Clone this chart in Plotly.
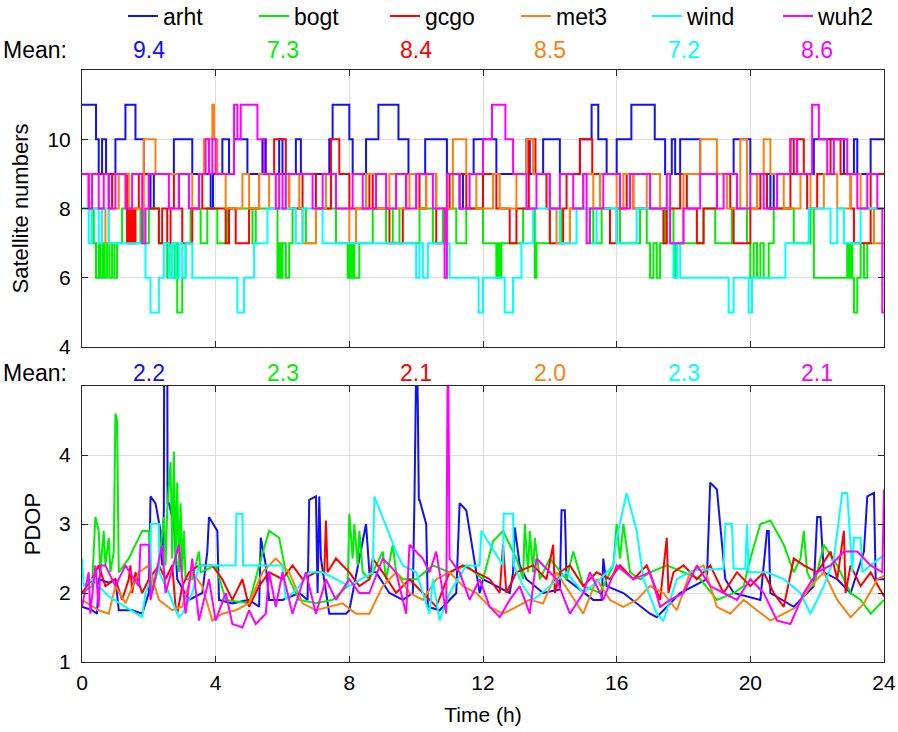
import plotly.graph_objects as go

# ---------------- data ----------------
stations = ["arht", "bogt", "gcgo", "met3", "wind", "wuh2"]
colors = ["#1010ff", "#00ee00", "#ff0000", "#ff7f0e", "#00ffff", "#ff00ff"]
mean_sat = ["9.4", "7.3", "8.4", "8.5", "7.2", "8.6"]
mean_pdop = ["2.2", "2.3", "2.1", "2.0", "2.3", "2.1"]
x_ticks = [0, 4, 8, 12, 16, 20, 24]

# satellite numbers (change times in hours, value held until next change)
arht_t = [0, 0.42, 0.5, 0.6, 0.72, 1.0, 1.3, 1.6, 1.85, 2.05,
          2.15, 2.75, 3.3, 3.85, 3.92, 4.2, 4.4, 4.55, 4.95, 5.4,
          5.5, 5.9, 6.0, 6.4, 6.55, 7.4, 7.5, 8.0, 8.1, 8.5,
          8.87, 9.47, 9.77, 10.27, 10.92, 11.3, 11.4, 11.72, 12.4, 13.3,
          13.4, 13.8, 14.3, 14.9, 15.25, 15.45, 15.7, 16.0, 16.44, 17.14,
          17.45, 17.65, 17.75, 17.9, 18.5, 19.5, 20.0, 20.6, 20.7, 21.9,
          22.8, 23.1, 23.2, 23.6, 24]
arht_n = [11, 10, 9, 10, 9, 10, 11, 10, 9, 8,
          9, 10, 9, 8, 9, 10, 9, 10, 9, 10,
          9, 10, 9, 10, 9, 10, 11, 10, 9, 10,
          11, 10, 9, 10, 9, 8, 9, 10, 9, 10,
          9, 10, 9, 10, 11, 10, 9, 10, 11, 10,
          9, 10, 9, 10, 9, 10, 9, 8, 9, 10,
          9, 10, 9, 10, 10]

bogt_t = [0, 0.35, 0.42, 0.5, 0.55, 0.62, 0.68, 0.75, 0.82, 0.9,
          0.97, 1.05, 1.2, 1.35, 1.75, 1.85, 2.0, 2.3, 2.55, 2.62,
          2.7, 2.78, 2.85, 3.0, 3.1, 3.25, 3.55, 3.75, 4.05, 4.35,
          5.1, 5.2, 5.85, 5.9, 5.95, 6.0, 6.1, 6.2, 6.3, 6.7,
          7.0, 7.6, 7.95, 8.0, 8.05, 8.1, 8.15, 8.3, 8.7, 9.1,
          9.3, 9.5, 10.1, 10.5, 10.8, 11.2, 11.5, 12.0, 12.4, 12.45,
          12.5, 12.55, 12.6, 13.2, 13.55, 13.6, 14.0, 14.35, 14.6, 15.3,
          15.55, 16.1, 16.7, 16.9, 17.0, 17.1, 17.2, 17.3, 17.45, 17.7,
          17.75, 17.8, 17.85, 18.6, 18.95, 19.45, 19.9, 20.0, 20.1, 20.2,
          20.3, 20.4, 20.55, 20.7, 21.3, 21.8, 21.9, 22.9, 22.95, 23.0,
          23.05, 23.1, 23.2, 23.3, 23.4, 23.5, 23.7, 24]
bogt_n = [8, 7, 6, 7, 6, 7, 6, 7, 6, 7,
          6, 7, 8, 7, 8, 7, 8, 7, 6, 7,
          6, 7, 5, 6, 7, 8, 7, 8, 7, 8,
          7, 8, 6, 7, 6, 7, 6, 7, 8, 7,
          8, 7, 6, 7, 6, 7, 6, 7, 8, 7,
          8, 7, 8, 7, 8, 7, 8, 7, 6, 7,
          6, 7, 7, 8, 6, 7, 8, 7, 8, 7,
          8, 7, 8, 7, 6, 7, 6, 7, 8, 7,
          6, 7, 7, 8, 7, 8, 7, 6, 7, 6,
          7, 6, 7, 8, 7, 8, 6, 7, 6, 7,
          6, 5, 6, 7, 6, 7, 8, 8]

gcgo_t = [0, 0.2, 0.3, 0.8, 0.9, 1.35, 1.4, 1.45, 1.5, 1.55,
          1.6, 1.7, 2.0, 2.3, 2.4, 2.55, 2.65, 2.75, 2.9, 3.0,
          3.3, 3.5, 3.6, 4.3, 4.4, 4.6, 5.0, 5.3, 5.75, 6.1,
          6.2, 6.6, 7.0, 7.45, 7.7, 8.0, 8.6, 8.7, 9.2, 9.6,
          9.7, 10.1, 10.3, 10.6, 10.9, 11.0, 11.5, 12.0, 12.4, 12.8,
          13.0, 13.37, 13.57, 13.9, 14.0, 14.4, 14.5, 14.9, 15.27, 15.5,
          15.8, 16.0, 16.3, 16.5, 17.4, 17.5, 17.9, 18.1, 18.4, 18.6,
          19.0, 19.4, 19.5, 20.0, 20.3, 20.5, 21.2, 21.3, 21.4, 21.6,
          21.7, 22.0, 22.4, 22.7, 23.0, 23.1, 23.6, 24]
gcgo_n = [9, 8, 9, 8, 9, 7, 8, 7, 8, 7,
          8, 9, 8, 7, 8, 7, 8, 9, 8, 7,
          8, 9, 8, 7, 8, 7, 8, 9, 10, 9,
          8, 9, 8, 10, 9, 8, 9, 8, 7, 8,
          9, 8, 9, 7, 8, 9, 8, 9, 8, 7,
          8, 10, 9, 8, 7, 8, 9, 10, 9, 8,
          7, 8, 9, 8, 7, 8, 9, 8, 7, 8,
          9, 8, 7, 8, 9, 8, 10, 9, 10, 9,
          8, 9, 10, 9, 8, 7, 9, 9]

met3_t = [0, 0.3, 0.7, 0.8, 1.1, 1.4, 1.85, 2.2, 3.3, 3.5,
          3.65, 3.9, 3.95, 4.05, 4.3, 4.8, 5.0, 5.3, 5.6, 6.2,
          6.5, 6.6, 7.0, 7.3, 7.6, 8.0, 8.2, 8.5, 8.8, 9.2,
          9.4, 9.8, 10.0, 10.3, 10.6, 11.1, 11.5, 11.8, 12.3, 12.5,
          13.0, 13.3, 13.5, 14.0, 14.2, 14.6, 15.0, 15.3, 15.5, 16.0,
          16.2, 16.5, 16.9, 17.3, 17.6, 18.0, 18.5, 19.0, 19.3, 19.7,
          19.9, 20.2, 20.4, 20.6, 21.0, 21.5, 21.8, 22.2, 22.6, 23.0,
          23.3, 23.7, 24]
met3_n = [9, 8, 7, 8, 9, 8, 10, 9, 8, 9,
          10, 11, 10, 9, 8, 9, 8, 9, 8, 9,
          8, 7, 8, 9, 8, 7, 8, 9, 8, 9,
          8, 9, 8, 9, 8, 10, 9, 8, 9, 8,
          9, 10, 9, 8, 7, 8, 9, 8, 9, 8,
          9, 8, 9, 8, 7, 9, 10, 9, 8, 10,
          8, 9, 10, 9, 8, 9, 8, 9, 8, 9,
          8, 7, 7]

wind_t = [0, 0.2, 0.3, 0.5, 0.6, 0.8, 1.0, 1.9, 2.05, 2.3,
          2.45, 2.6, 2.7, 2.8, 2.9, 3.0, 3.1, 3.3, 4.65, 4.85,
          5.15, 5.55, 6.4, 6.6, 7.2, 8.0, 10.0, 10.1, 10.2, 10.35,
          11.0, 11.87, 12.0, 12.65, 12.9, 13.15, 13.5, 14.3, 14.8, 15.2,
          15.4, 16.0, 16.6, 17.6, 17.7, 17.8, 17.9, 18.1, 19.35, 19.5,
          19.95, 20.05, 21.05, 21.75, 22.4, 22.6, 22.8, 23.3, 24]
wind_n = [8, 7, 8, 7, 8, 7, 7, 6, 5, 6,
          7, 6, 7, 6, 7, 6, 7, 6, 5, 6,
          7, 8, 7, 8, 7, 7, 6, 7, 6, 7,
          6, 5, 6, 5, 6, 7, 8, 7, 8, 7,
          8, 7, 8, 7, 6, 7, 6, 6, 5, 6,
          5, 6, 7, 8, 7, 8, 7, 8, 8]

wuh2_t = [0, 0.2, 0.3, 0.5, 0.65, 0.8, 1.0, 1.3, 1.5, 1.8,
          1.9, 2.0, 2.6, 2.9, 3.2, 3.5, 3.7, 3.8, 3.9, 4.0,
          4.3, 4.55, 4.65, 4.75, 5.25, 5.45, 5.8, 5.9, 6.0, 6.1,
          6.4, 6.9, 7.2, 7.6, 8.1, 8.4, 8.8, 9.1, 9.4, 9.7,
          10.0, 10.5, 10.85, 10.92, 11.3, 11.6, 12.0, 12.27, 12.67, 12.9,
          13.3, 13.6, 14.0, 14.3, 14.7, 15.0, 15.1, 15.2, 15.6, 16.1,
          16.4, 17.0, 17.5, 17.6, 18.0, 18.5, 19.0, 19.2, 19.6, 20.0,
          20.4, 20.8, 21.2, 21.4, 21.85, 22.05, 22.3, 22.5, 22.9, 23.2,
          23.5, 23.8, 23.95, 24]
wuh2_n = [9, 8, 9, 8, 9, 8, 9, 8, 9, 7,
          8, 9, 8, 9, 8, 9, 10, 9, 10, 9,
          9, 11, 10, 11, 10, 9, 8, 9, 8, 9,
          9, 8, 9, 8, 9, 8, 9, 8, 9, 8,
          9, 8, 6, 9, 8, 9, 10, 11, 10, 9,
          8, 9, 8, 9, 8, 9, 7, 8, 9, 8,
          9, 8, 9, 7, 8, 9, 8, 9, 8, 9,
          8, 9, 10, 9, 11, 10, 9, 10, 9, 8,
          9, 8, 5, 5]

# PDOP
arht_pt = [0, 0.3, 0.45, 0.5, 0.8, 1.0, 1.1, 1.5, 1.8, 2.0,
           2.05, 2.2, 2.35, 2.4, 2.45, 2.46, 2.55, 2.56, 2.6, 2.75,
           2.85, 3.2, 3.6, 3.75, 3.8, 4.05, 4.1, 4.5, 5.0, 5.3,
           5.35, 5.5, 5.6, 6.0, 6.5, 6.75, 6.8, 7.0, 7.05, 7.1,
           7.15, 7.4, 7.9, 8.0, 8.5, 8.6, 8.8, 9.2, 9.6, 9.9,
           9.95, 10.0, 10.02, 10.08, 10.1, 10.3, 10.35, 10.7, 11.2, 11.3,
           11.5, 11.9, 12.0, 12.8, 12.9, 12.95, 13.1, 13.3, 13.8, 14.3,
           14.35, 14.45, 14.5, 15.3, 15.55, 15.6, 15.7, 16.2, 17.0, 17.2,
           17.9, 18.7, 18.8, 19.0, 19.2, 19.25, 19.5, 20.3, 20.5, 20.55,
           20.6, 21.3, 21.9, 22.0, 22.1, 22.2, 22.6, 23.0, 23.4, 23.5,
           23.7, 23.75, 24]
arht_p = [1.8, 1.75, 1.7, 2.2, 2.15, 2.2, 1.75, 1.75, 1.7, 2.0,
          3.4, 3.3, 2.9, 2.4, 3.2, 6.0, 6.0, 3.3, 3.3, 3.0,
          2.2, 1.9, 2.0, 2.6, 3.1, 2.9, 1.9, 1.85, 1.9, 1.8,
          2.8, 2.4, 1.9, 1.9, 2.0, 1.9, 3.35, 3.4, 2.0, 3.4,
          2.5, 1.7, 1.7, 1.75, 3.0, 2.3, 2.3, 2.0, 1.9, 2.0,
          3.4, 6.0, 6.0, 3.35, 3.35, 3.0, 1.8, 1.75, 2.0, 3.3,
          3.2, 2.0, 2.2, 2.0, 2.3, 2.95, 2.4, 2.2, 2.0, 2.05,
          3.2, 3.2, 2.2, 1.9, 1.9, 2.5, 2.1, 2.0, 1.7, 1.65,
          2.0, 2.2, 3.6, 3.5, 2.5, 2.2, 2.0, 1.9, 2.9, 2.9,
          2.0, 1.8, 2.1, 3.1, 3.1, 2.3, 2.2, 2.0, 2.6, 3.4,
          3.45, 2.2, 2.2]

bogt_pt = [0, 0.3, 0.4, 0.5, 0.55, 0.65, 0.7, 0.8, 0.85, 0.95,
           1.0, 1.05, 1.1, 1.4, 1.8, 2.0, 2.1, 2.3, 2.45, 2.5,
           2.55, 2.65, 2.7, 2.75, 2.8, 2.85, 2.9, 2.95, 3.0, 3.05,
           3.1, 3.3, 3.5, 3.55, 4.0, 4.3, 5.0, 5.3, 5.6, 5.9,
           6.1, 6.5, 7.0, 7.5, 7.95, 8.0, 8.1, 8.15, 8.25, 8.3,
           8.4, 8.6, 9.0, 9.1, 9.3, 9.4, 9.6, 10.0, 10.5, 11.0,
           11.5, 12.0, 12.3, 12.6, 13.0, 13.2, 13.25, 13.35, 13.4, 13.5,
           13.55, 13.7, 14.0, 14.5, 14.7, 15.0, 15.5, 15.9, 16.0, 16.1,
           16.2, 16.4, 16.7, 17.0, 17.5, 18.0, 18.5, 19.0, 19.5, 19.8,
           20.0, 20.3, 20.6, 21.0, 21.3, 21.5, 21.6, 21.7, 21.9, 22.2,
           22.6, 23.0, 23.3, 23.6, 24]
bogt_p = [2.0, 2.1, 3.1, 2.9, 2.3, 2.9, 2.4, 2.8, 2.3, 2.6,
          4.6, 4.5, 2.3, 2.5, 2.9, 2.9, 2.0, 2.4, 3.1, 2.4,
          3.2, 3.9, 2.5, 4.05, 2.4, 3.6, 2.3, 3.3, 2.3, 2.9,
          2.2, 2.2, 2.6, 2.3, 2.4, 1.9, 1.85, 2.4, 2.9, 2.8,
          2.3, 1.9, 1.85, 1.9, 2.1, 3.15, 2.5, 3.0, 2.4, 2.9,
          2.3, 2.2, 2.6, 2.2, 2.7, 2.3, 2.2, 2.2, 2.4, 2.3,
          2.4, 2.2, 2.75, 2.9, 2.5, 2.2, 3.0, 2.3, 2.9, 2.3,
          2.8, 2.2, 2.5, 2.2, 2.6, 2.1, 2.0, 2.4, 3.0, 2.5,
          3.0, 2.3, 2.2, 2.3, 2.4, 2.3, 2.2, 1.9, 2.0, 2.1,
          2.5, 3.0, 3.05, 2.7, 2.3, 2.5, 2.9, 2.3, 2.1, 2.7,
          2.4, 2.0, 1.9, 1.7, 1.9]

gcgo_pt = [0, 0.3, 0.5, 0.7, 1.0, 1.2, 1.4, 1.45, 1.5, 1.6,
           1.8, 2.0, 2.3, 2.5, 2.7, 2.8, 2.85, 3.0, 3.2, 3.5,
           3.9, 4.2, 4.5, 4.8, 5.0, 5.3, 5.6, 6.0, 6.3, 6.6,
           7.0, 7.25, 7.3, 7.35, 7.6, 8.0, 8.3, 8.6, 8.7, 9.0,
           9.4, 9.8, 10.2, 10.6, 11.0, 11.4, 11.8, 12.2, 12.5, 12.6,
           12.7, 13.0, 13.5, 13.9, 14.1, 14.15, 14.3, 14.6, 15.0, 15.4,
           15.8, 16.1, 16.5, 16.9, 17.3, 17.5, 17.55, 17.7, 18.0, 18.4,
           18.8, 19.2, 19.6, 20.0, 20.4, 20.7, 21.0, 21.3, 21.6, 22.0,
           22.4, 22.6, 22.8, 22.85, 23.0, 23.3, 23.6, 24]
gcgo_p = [2.0, 2.2, 2.4, 2.1, 2.2, 1.9, 2.2, 2.4, 2.0, 2.3,
          2.0, 2.2, 2.4, 2.2, 2.4, 1.8, 1.7, 2.1, 2.3, 2.4,
          2.4, 2.2, 1.9, 2.2, 1.8, 2.1, 2.3, 2.2, 2.4, 2.2,
          2.3, 2.3, 3.05, 2.3, 2.5, 2.3, 2.1, 2.2, 2.5, 2.3,
          2.0, 2.2, 2.0, 1.8, 2.3, 2.4, 2.3, 2.2, 2.0, 2.7,
          2.0, 2.3, 2.4, 2.2, 2.7, 2.0, 2.3, 2.4, 2.1, 2.3,
          2.2, 2.4, 2.2, 2.4, 1.9, 2.8, 2.0, 2.3, 2.4, 2.2,
          2.4, 2.0, 2.3, 2.1, 2.3, 2.0, 1.8, 2.5, 2.4, 2.3,
          2.6, 2.2, 2.9, 2.0, 2.4, 2.1, 2.3, 1.95]

met3_pt = [0, 0.5, 0.8, 1.0, 1.3, 1.7, 2.0, 2.3, 2.7, 3.0,
           3.3, 3.6, 3.9, 4.2, 4.6, 5.0, 5.4, 5.8, 6.2, 6.6,
           7.0, 7.4, 7.8, 8.2, 8.6, 9.0, 9.4, 9.8, 10.2, 10.6,
           11.0, 11.4, 11.8, 12.2, 12.6, 13.0, 13.4, 13.8, 14.2, 14.6,
           15.0, 15.4, 15.8, 16.2, 16.6, 17.0, 17.4, 17.8, 18.2, 18.6,
           19.0, 19.4, 19.8, 20.2, 20.6, 21.0, 21.4, 21.8, 22.2, 22.6,
           23.0, 23.4, 23.8, 24]
met3_p = [1.9, 1.75, 1.7, 2.1, 1.85, 2.3, 2.4, 1.9, 1.75, 1.8,
          2.3, 2.1, 1.6, 1.7, 1.75, 1.85, 2.3, 2.5, 2.3, 1.85,
          1.75, 1.8, 1.85, 1.7, 1.7, 2.1, 2.3, 2.0, 1.9, 2.2,
          2.3, 2.1, 2.0, 1.8, 1.7, 1.8, 1.9, 1.85, 2.3, 2.0,
          1.7, 2.2, 1.9, 1.8, 1.9, 2.1, 2.0, 1.75, 2.3, 2.4,
          1.8, 1.7, 1.9, 1.75, 1.6, 1.7, 1.8, 2.1, 2.3, 1.9,
          1.65, 1.85, 2.2, 2.25]

wind_pt = [0, 0.05, 0.3, 0.8, 1.3, 1.8, 1.9, 2.05, 2.06, 2.3,
           2.31, 2.6, 2.9, 3.0, 3.3, 3.5, 4.5, 4.6, 4.62, 4.8,
           4.82, 5.2, 6.0, 6.1, 6.5, 6.8, 7.2, 8.0, 8.7, 8.75,
           9.4, 9.6, 10.0, 10.4, 10.5, 10.7, 11.0, 11.5, 11.9, 11.95,
           12.6, 12.62, 12.9, 12.92, 13.2, 13.5, 14.0, 14.5, 15.0, 15.5,
           15.9, 16.0, 16.3, 16.6, 16.8, 17.2, 17.4, 17.8, 18.3, 19.2,
           19.25, 19.45, 19.5, 19.85, 19.9, 19.95, 20.5, 21.0, 21.5, 21.8,
           22.2, 22.5, 22.75, 22.9, 23.05, 23.1, 23.3, 23.35, 23.6, 24]
wind_p = [2.5, 2.1, 2.2, 1.95, 1.8, 1.65, 2.0, 2.2, 3.0, 3.0,
          2.3, 2.0, 1.65, 1.7, 2.0, 2.4, 2.4, 2.4, 3.15, 3.15,
          2.4, 2.4, 2.4, 1.9, 2.1, 2.3, 2.3, 2.1, 2.3, 3.4,
          2.6, 2.4, 2.3, 1.7, 2.2, 1.6, 2.0, 2.4, 2.4, 2.9,
          2.4, 3.15, 3.15, 2.4, 2.1, 1.9, 2.1, 2.3, 2.0, 2.2,
          2.4, 2.8, 3.45, 2.9, 2.2, 1.7, 1.6, 2.2, 2.33, 2.35,
          3.0, 3.0, 2.35, 2.35, 3.0, 2.3, 2.3, 2.2, 2.0, 1.7,
          2.1, 2.5, 3.45, 3.45, 2.3, 2.8, 2.8, 2.3, 2.4, 2.55]

wuh2_pt = [0, 0.2, 0.25, 0.4, 0.5, 0.55, 0.7, 1.0, 1.3, 1.7,
           1.75, 2.0, 2.05, 2.4, 2.5, 2.9, 3.1, 3.3, 3.5, 3.8,
           4.0, 4.3, 4.5, 4.8, 5.0, 5.2, 5.5, 5.6, 5.8, 6.0,
           6.3, 6.7, 7.0, 7.3, 7.6, 8.0, 8.3, 8.6, 9.0, 9.4,
           9.7, 9.8, 10.2, 10.4, 10.6, 10.9, 10.95, 11.0, 11.3, 11.6,
           11.9, 12.2, 12.5, 12.8, 13.1, 13.4, 13.6, 13.8, 14.2, 14.6,
           15.0, 15.2, 15.6, 16.0, 16.5, 17.0, 17.3, 17.6, 18.0, 18.4,
           18.8, 19.2, 19.6, 20.0, 20.4, 20.8, 21.2, 21.6, 22.0, 22.4,
           22.8, 23.2, 23.6, 23.95, 24]
wuh2_p = [1.8, 2.3, 1.7, 2.4, 1.8, 2.4, 2.4, 2.1, 2.4, 2.1,
          2.7, 2.7, 1.9, 2.7, 2.0, 2.7, 1.7, 2.5, 1.6, 2.2,
          1.6, 2.0, 1.55, 1.5, 1.75, 1.55, 1.7, 2.3, 1.8, 2.3,
          1.7, 2.3, 1.7, 2.2, 1.9, 2.2, 2.0, 2.0, 2.5, 2.3,
          1.7, 2.7, 2.5, 2.3, 2.6, 1.7, 6.0, 2.5, 2.3, 1.9,
          2.2, 1.8, 1.65, 1.9, 2.1, 1.7, 2.5, 2.4, 2.2, 1.7,
          2.0, 2.3, 1.9, 2.4, 2.2, 2.3, 1.8, 1.9, 2.0, 2.4,
          2.1, 2.0, 1.9, 2.2, 2.0, 1.6, 1.55, 2.0, 2.3, 2.4,
          2.6, 2.6, 2.4, 2.3, 3.5]

sat_t = [arht_t, bogt_t, gcgo_t, met3_t, wind_t, wuh2_t]
sat_n = [arht_n, bogt_n, gcgo_n, met3_n, wind_n, wuh2_n]
pdop_t = [arht_pt, bogt_pt, gcgo_pt, met3_pt, wind_pt, wuh2_pt]
pdop_v = [arht_p, bogt_p, gcgo_p, met3_p, wind_p, wuh2_p]

# ---------------- figure ----------------
W, H = 898, 732
fig = go.Figure()

for i, name in enumerate(stations):
    fig.add_trace(go.Scatter(
        x=sat_t[i], y=sat_n[i], mode="lines", name=name,
        line=dict(color=colors[i], width=2, shape="hv"),
        xaxis="x", yaxis="y", legendgroup=name))
for i, name in enumerate(stations):
    fig.add_trace(go.Scatter(
        x=pdop_t[i], y=pdop_v[i], mode="lines", name=name, showlegend=False,
        line=dict(color=colors[i], width=2),
        xaxis="x2", yaxis="y2", legendgroup=name))

x0, x1 = 82 / W, 884 / W
top_dom = [1 - 347 / H, 1 - 70 / H]
bot_dom = [1 - 662 / H, 1 - 386 / H]

axis_common = dict(
    showline=True, mirror="ticks", linecolor="#262626", linewidth=1,
    ticks="inside", ticklen=6, tickcolor="#262626", automargin=False,
    showgrid=True, gridcolor="#dedede", gridwidth=1, zeroline=False,
)
narrow = "Liberation Sans Narrow, Arial Narrow, Liberation Sans, Arial"
regular = "Liberation Sans, Arial, sans-serif"

fig.update_layout(
    width=W, height=H,
    margin=dict(l=0, r=0, t=0, b=0, autoexpand=False),
    paper_bgcolor="white", plot_bgcolor="white",
    font=dict(family=regular, color="black", size=20),
    xaxis=dict(domain=[x0, x1], anchor="y", range=[0, 24], tickvals=x_ticks,
               showticklabels=False, **axis_common),
    yaxis=dict(domain=top_dom, anchor="x", range=[4, 12], tickvals=[4, 6, 8, 10],
               tickfont=dict(size=21, family=regular), ticklabelstandoff=6,
               title=dict(text="Satellite numbers", font=dict(size=22), standoff=12),
               **axis_common),
    xaxis2=dict(domain=[x0, x1], anchor="y2", range=[0, 24], tickvals=x_ticks,
                tickfont=dict(size=21, family=narrow), ticklabelstandoff=2,
                title=dict(text="Time (h)", font=dict(size=21, family=narrow), standoff=14),
                **axis_common),
    yaxis2=dict(domain=bot_dom, anchor="x2", range=[1, 5], tickvals=[1, 2, 3, 4],
                tickfont=dict(size=21, family=regular), ticklabelstandoff=6,
                title=dict(text="PDOP", font=dict(size=22), standoff=12),
                **axis_common),
    legend=dict(orientation="h", xref="container", yref="container",
                x=123 / W, xanchor="left", y=1 - 16 / H, yanchor="middle",
                font=dict(size=23, family=regular), entrywidth=86,
                entrywidthmode="pixels", bgcolor="rgba(0,0,0,0)",
                tracegroupgap=0, itemwidth=30),
    showlegend=True,
)

# "Mean:" labels and values
for yy in (1 - 50 / H, 1 - 373 / H):
    fig.add_annotation(text="Mean:", xref="paper", yref="paper", x=69 / W, y=yy,
                       xanchor="right", yanchor="middle", showarrow=False,
                       font=dict(size=23, color="black"))
for i in range(6):
    fig.add_annotation(text=mean_sat[i], xref="x", yref="paper", x=2 + 4 * i,
                       y=1 - 50 / H, xanchor="center", yanchor="middle",
                       showarrow=False, font=dict(size=23, color=colors[i]))
    fig.add_annotation(text=mean_pdop[i], xref="x2", yref="paper", x=2 + 4 * i,
                       y=1 - 373 / H, xanchor="center", yanchor="middle",
                       showarrow=False, font=dict(size=23, color=colors[i]))

fig.write_html("out.html", config={"displayModeBar": False},
               post_script="document.body.style.margin='0';")
